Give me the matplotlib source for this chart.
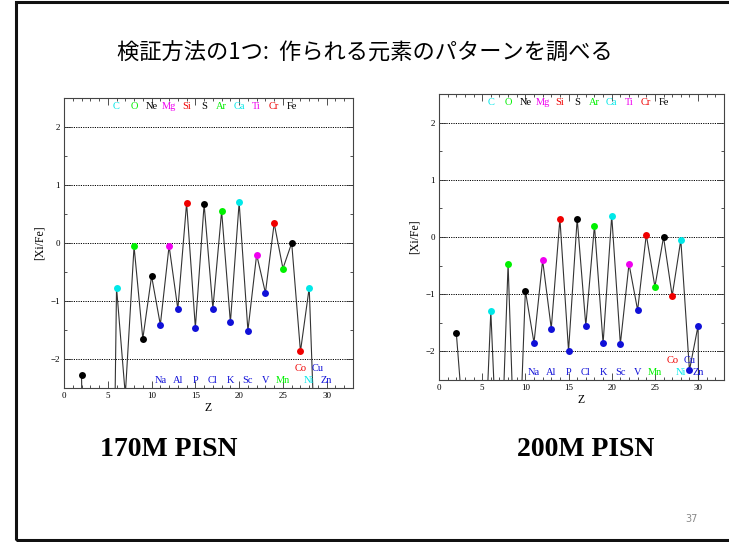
import matplotlib
matplotlib.use("Agg")
import matplotlib.pyplot as plt
from matplotlib.patches import Rectangle
from matplotlib.ticker import MultipleLocator

plt.rcParams['font.family'] = ['Noto Sans CJK JP', 'DejaVu Sans']

TITLE = "検証方法の1つ:  作られる元素のパターンを調べる"
PANEL_NAMES = ["170M PISN", "200M PISN"]
PAGE_NO = "37"

# atomic number Z = 2 .. 31 ; values far below -2.5 are off-chart estimates
z = list(range(2, 32))
xi_fe_170 = [-2.27, -12.0, -12.0, -12.0, -0.77, -2.62, -0.06, -1.65, -0.57, -1.41,
             -0.05, -1.14, 0.69, -1.46, 0.67, -1.13, 0.55, -1.37, 0.70, -1.51,
             -0.20, -0.86, 0.34, -0.44, 0.00, -1.87, -0.77, -5.0, -4.5, -20.0]
xi_fe_200 = [-1.67, -3.6, -4.5, -4.9, -1.30, -4.8, -0.47, -5.0, -0.94, -1.85,
             -0.41, -1.60, 0.32, -1.99, 0.32, -1.55, 0.20, -1.86, 0.37, -1.87,
             -0.47, -1.28, 0.04, -0.87, 0.00, -1.03, -0.05, -2.33, -1.55, -20.0]

colours = {"k": "black", "c": "#00e8e8", "g": "#00f000", "m": "#f000f0",
           "r": "#f00000", "b": "#1010d8"}
# marker colour for each Z (None = no marker)
point_col = [
    "k", None, None, None, "c", None, "g", "k", "k", "b",
    "m", "b", "r", "b", "k", "b", "g", "b", "c", "b",
    "m", "b", "r", "g", "k", "r", "c", "b", "b", None]

# element name labels: (name, Z, colour)
top_labels = [("C", 6, "c"), ("O", 8, "g"), ("Ne", 10, "k"), ("Mg", 12, "m"),
              ("Si", 14, "r"), ("S", 16, "k"), ("Ar", 18, "g"), ("Ca", 20, "c"),
              ("Ti", 22, "m"), ("Cr", 24, "r"), ("Fe", 26, "k")]
bottom_labels = [("Na", 11, "b"), ("Al", 13, "b"), ("P", 15, "b"), ("Cl", 17, "b"),
                 ("K", 19, "b"), ("Sc", 21, "b"), ("V", 23, "b"), ("Mn", 25, "g"),
                 ("Ni", 28, "c"), ("Zn", 30, "b")]
mid_labels = [("Co", 27, "r"), ("Cu", 29, "b")]

SERIF = ['Liberation Serif', 'DejaVu Serif']

fig = plt.figure(figsize=(7.29, 5.42), dpi=100)

# slide border
fig.patches.append(Rectangle((16 / 729, 2 / 542), 720 / 729, 538 / 542,
                             transform=fig.transFigure, fill=False,
                             edgecolor="#111111", linewidth=2.2))

fig.text(0.5, 1 - 53 / 542, TITLE, ha="center", va="center", fontsize=16)

axes_pos = [[64 / 729, 1 - 388 / 542, 289 / 729, 290 / 542],
            [439 / 729, 1 - 380 / 542, 285 / 729, 286 / 542]]

for i, vals in enumerate([xi_fe_170, xi_fe_200]):
    ax = fig.add_axes(axes_pos[i])
    for y in [-2, -1, 0, 1, 2]:
        ax.axhline(y, color="black", lw=0.7, ls=(0, (1.2, 1.2)), zorder=1)
    ax.plot(z, vals, color="#333333", lw=0.8, zorder=2)
    for zz, v, c in zip(z, vals, point_col):
        if c is not None:
            ax.plot(zz, v, "o", color=colours[c], markersize=5,
                    markeredgewidth=0, zorder=3)

    for name, zz, c in top_labels:
        ax.text(zz, 2.35, name, color=colours[c], ha="center", va="center",
                fontsize=7.5, family=SERIF)
    for name, zz, c in bottom_labels:
        ax.text(zz, -2.37, name, color=colours[c], ha="center", va="center",
                fontsize=7.5, family=SERIF)
    for name, zz, c in mid_labels:
        ax.text(zz, -2.16, name, color=colours[c], ha="center", va="center",
                fontsize=7.5, family=SERIF)

    ax.set_xlim(0, 33)
    ax.set_ylim(-2.5, 2.5)
    ax.xaxis.set_major_locator(MultipleLocator(5))
    ax.xaxis.set_minor_locator(MultipleLocator(1))
    ax.yaxis.set_major_locator(MultipleLocator(1))
    ax.yaxis.set_minor_locator(MultipleLocator(0.5))
    ax.tick_params(which="both", direction="in", top=True, right=True,
                   color="#333333", width=0.6, labelsize=6.5, pad=3)
    ax.tick_params(which="major", length=5)
    ax.tick_params(which="minor", length=2.5)
    for lab in ax.get_xticklabels() + ax.get_yticklabels():
        lab.set_family(SERIF)
    for s in ax.spines.values():
        s.set_color("#444444")
        s.set_linewidth(0.8)
    ax.set_xlabel("Z", family=SERIF, fontsize=8.5, labelpad=1)
    ax.set_ylabel("[Xi/Fe]", family=SERIF, fontsize=8.5, labelpad=3)

fig.text(169 / 729, 1 - 449 / 542, PANEL_NAMES[0], ha="center", va="center",
         fontsize=20, fontweight="bold", family=SERIF)
fig.text(586 / 729, 1 - 449 / 542, PANEL_NAMES[1], ha="center", va="center",
         fontsize=20, fontweight="bold", family=SERIF)
fig.text(691 / 729, 1 - 519 / 542, PAGE_NO, ha="center", va="center",
         fontsize=7, color="#888888", family=["DejaVu Sans"])

fig.savefig("out.png", dpi=100)
